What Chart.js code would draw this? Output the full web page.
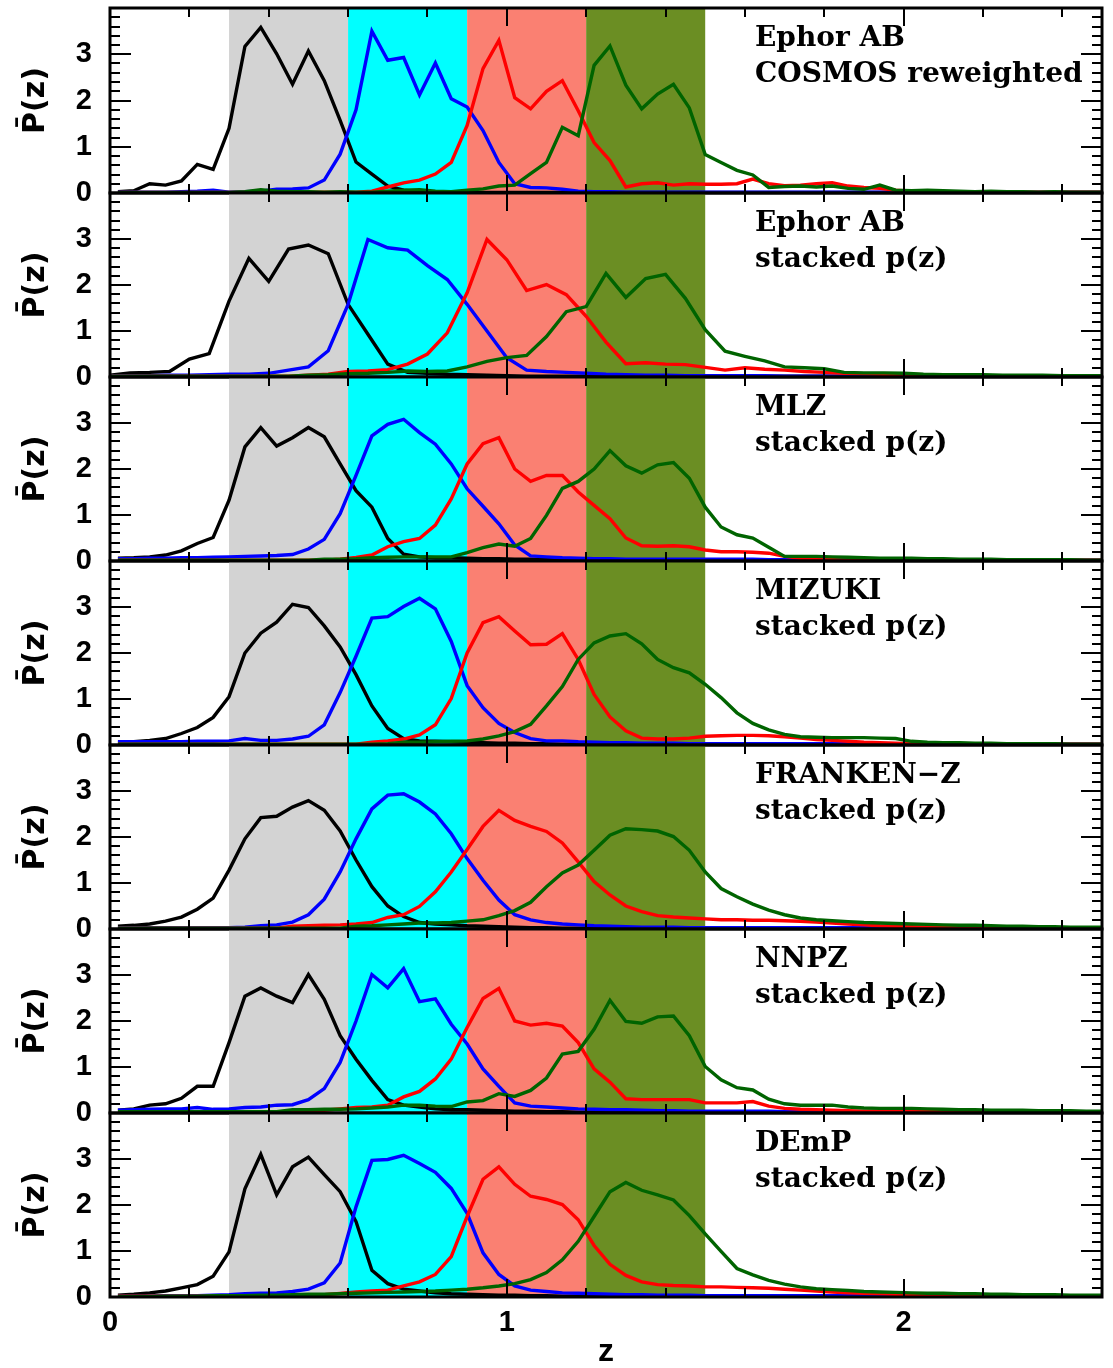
<!DOCTYPE html>
<html>
<head>
<meta charset="utf-8">
<script src="https://cdn.jsdelivr.net/npm/chart.js@4.4.1/dist/chart.umd.min.js"></script>
<style>
  body { margin: 0; background: #fff; }
  #wrap { position: relative; width: 1113px; height: 1368px; overflow: hidden; }
  #wrap canvas { position: absolute; left: 0; }
</style>
</head>
<body>
<div id="wrap"></div>
<script>
// redshift bin centres (dz = 0.04), used by every panel except the stacked Ephor one
const zGrid = [
  0.02, 0.06, 0.10, 0.14, 0.18, 0.22, 0.26, 0.30, 0.34,
  0.38, 0.42, 0.46, 0.50, 0.54, 0.58, 0.62, 0.66, 0.70,
  0.74, 0.78, 0.82, 0.86, 0.90, 0.94, 0.98, 1.02, 1.06,
  1.10, 1.14, 1.18, 1.22, 1.26, 1.30, 1.34, 1.38, 1.42,
  1.46, 1.50, 1.54, 1.58, 1.62, 1.66, 1.70, 1.74, 1.78,
  1.82, 1.86, 1.90, 1.94, 1.98, 2.02, 2.06, 2.10, 2.14,
  2.18, 2.22, 2.26, 2.30, 2.34, 2.38, 2.42, 2.46, 2.50
];
// Ephor AB stacked p(z) comes on a coarser grid (dz = 0.05)
const zGridStacked = [
  0.00, 0.05, 0.10, 0.15, 0.20, 0.25, 0.30, 0.35, 0.40, 0.45, 0.50, 0.55, 0.60, 0.65, 0.70, 0.75, 0.80,
  0.85, 0.90, 0.95, 1.00, 1.05, 1.10, 1.15, 1.20, 1.25, 1.30, 1.35, 1.40, 1.45, 1.50, 1.55, 1.60,
  1.65, 1.70, 1.75, 1.80, 1.85, 1.90, 1.95, 2.00, 2.05, 2.10, 2.15, 2.20, 2.25, 2.30, 2.35, 2.40, 2.45, 2.50
];

// photo-z bins: 0.3-0.6, 0.6-0.9, 0.9-1.2, 1.2-1.5
const binEdges = [0.3, 0.6, 0.9, 1.2, 1.5];

// ---- Ephor AB, COSMOS reweighted
const ephorRwZ03 = [
  0.03, 0.05, 0.20, 0.17, 0.26, 0.62, 0.51, 1.40, 3.17,
  3.58, 3.01, 2.35, 3.07, 2.43, 1.57, 0.67, 0.41, 0.15,
  0.06, 0.03, 0.02, 0.02, 0.01, 0.01, 0.01, 0.01, 0.01,
  0.01, 0.01, 0.01, 0.01, 0.01, 0.01, 0.01, 0.01, 0.01,
  0.01, 0.01, 0.01, 0.01, 0.01, 0.01, 0.01, 0.01, 0.01,
  0.01, 0.01, 0.01, 0.01, 0.01, 0.01, 0.01, 0.01, 0.01,
  0.01, 0.01, 0.01, 0.01, 0.01, 0.01, 0.01, 0.01, 0.01
];
const ephorRwZ06 = [
  0.02, 0.02, 0.02, 0.02, 0.03, 0.04, 0.06, 0.02, 0.03,
  0.04, 0.08, 0.09, 0.11, 0.28, 0.84, 1.80, 3.50, 2.87,
  2.93, 2.12, 2.81, 2.04, 1.86, 1.35, 0.66, 0.20, 0.12,
  0.11, 0.08, 0.04, 0.03, 0.03, 0.02, 0.02, 0.02, 0.02,
  0.02, 0.02, 0.02, 0.02, 0.02, 0.02, 0.02, 0.02, 0.02,
  0.02, 0.02, 0.02, 0.02, 0.02, 0.02, 0.02, 0.02, 0.02,
  0.02, 0.02, 0.02, 0.02, 0.02, 0.02, 0.02, 0.02, 0.02
];
const ephorRwZ09 = [
  0.01, 0.01, 0.01, 0.01, 0.01, 0.01, 0.01, 0.01, 0.02,
  0.02, 0.02, 0.02, 0.02, 0.02, 0.02, 0.02, 0.04, 0.13,
  0.22, 0.28, 0.41, 0.66, 1.46, 2.69, 3.30, 2.06, 1.82,
  2.20, 2.43, 1.78, 1.09, 0.70, 0.13, 0.20, 0.22, 0.17,
  0.20, 0.19, 0.19, 0.20, 0.30, 0.20, 0.16, 0.17, 0.20,
  0.22, 0.15, 0.12, 0.10, 0.06, 0.04, 0.03, 0.02, 0.02,
  0.02, 0.02, 0.02, 0.02, 0.02, 0.02, 0.02, 0.02, 0.02
];
const ephorRwZ12 = [
  0.01, 0.01, 0.01, 0.01, 0.01, 0.01, 0.01, 0.01, 0.03,
  0.07, 0.04, 0.03, 0.03, 0.02, 0.03, 0.02, 0.02, 0.04,
  0.06, 0.07, 0.04, 0.03, 0.06, 0.09, 0.15, 0.17, 0.42,
  0.66, 1.42, 1.24, 2.76, 3.18, 2.33, 1.82, 2.14, 2.35,
  1.84, 0.83, 0.66, 0.49, 0.39, 0.12, 0.14, 0.15, 0.13,
  0.15, 0.10, 0.08, 0.17, 0.06, 0.05, 0.06, 0.05, 0.04,
  0.03, 0.04, 0.03, 0.03, 0.02, 0.03, 0.02, 0.02, 0.02
];

// ---- Ephor AB, stacked p(z)  (zGridStacked)
const ephorZ03 = [
  0.04, 0.09, 0.10, 0.12, 0.39, 0.51, 1.65, 2.58, 2.08, 2.78, 2.87, 2.68, 1.58, 0.93, 0.28, 0.10, 0.08,
  0.06, 0.05, 0.04, 0.03, 0.02, 0.02, 0.02, 0.02, 0.02, 0.02, 0.02, 0.02, 0.02, 0.02, 0.02, 0.02,
  0.02, 0.02, 0.02, 0.02, 0.02, 0.02, 0.02, 0.02, 0.02, 0.02, 0.02, 0.02, 0.02, 0.02, 0.02, 0.02, 0.02, 0.02
];
const ephorZ06 = [
  0.03, 0.03, 0.03, 0.04, 0.04, 0.05, 0.06, 0.06, 0.08, 0.15, 0.22, 0.57, 1.58, 2.99, 2.81, 2.76, 2.42,
  2.12, 1.58, 1.00, 0.42, 0.15, 0.12, 0.10, 0.08, 0.06, 0.05, 0.04, 0.04, 0.03, 0.03, 0.03, 0.03,
  0.03, 0.02, 0.02, 0.02, 0.02, 0.02, 0.02, 0.02, 0.02, 0.02, 0.02, 0.02, 0.02, 0.02, 0.02, 0.02, 0.02, 0.02
];
const ephorZ09 = [
  0.02, 0.02, 0.02, 0.02, 0.02, 0.02, 0.02, 0.02, 0.02, 0.02, 0.04, 0.06, 0.12, 0.13, 0.16, 0.28, 0.50,
  0.96, 1.83, 2.99, 2.55, 1.88, 2.01, 1.79, 1.32, 0.76, 0.29, 0.31, 0.28, 0.27, 0.21, 0.15, 0.20,
  0.17, 0.15, 0.12, 0.10, 0.08, 0.07, 0.06, 0.06, 0.05, 0.04, 0.04, 0.03, 0.03, 0.03, 0.02, 0.02, 0.02, 0.02
];
const ephorZ12 = [
  0.02, 0.02, 0.02, 0.02, 0.02, 0.02, 0.02, 0.02, 0.02, 0.02, 0.04, 0.05, 0.07, 0.08, 0.10, 0.13, 0.12,
  0.13, 0.22, 0.34, 0.42, 0.47, 0.88, 1.42, 1.53, 2.25, 1.73, 2.14, 2.23, 1.71, 1.03, 0.56, 0.45,
  0.35, 0.22, 0.20, 0.18, 0.10, 0.09, 0.09, 0.08, 0.06, 0.05, 0.05, 0.05, 0.04, 0.04, 0.04, 0.03, 0.03, 0.03
];

// ---- MLZ
const mlzZ03 = [
  0.06, 0.07, 0.09, 0.13, 0.22, 0.38, 0.51, 1.32, 2.48,
  2.90, 2.50, 2.68, 2.90, 2.70, 2.11, 1.53, 1.17, 0.49,
  0.15, 0.09, 0.07, 0.07, 0.06, 0.05, 0.05, 0.04, 0.04,
  0.03, 0.03, 0.03, 0.02, 0.02, 0.02, 0.02, 0.02, 0.02,
  0.02, 0.02, 0.02, 0.02, 0.02, 0.02, 0.02, 0.02, 0.02,
  0.02, 0.02, 0.02, 0.02, 0.02, 0.02, 0.02, 0.02, 0.02,
  0.02, 0.02, 0.02, 0.02, 0.02, 0.02, 0.02, 0.02, 0.02
];
const mlzZ06 = [
  0.05, 0.05, 0.06, 0.06, 0.07, 0.07, 0.08, 0.09, 0.10,
  0.11, 0.12, 0.14, 0.26, 0.47, 1.03, 1.86, 2.72, 2.97,
  3.08, 2.79, 2.54, 2.11, 1.57, 1.19, 0.81, 0.35, 0.11,
  0.09, 0.07, 0.06, 0.05, 0.05, 0.04, 0.04, 0.04, 0.04,
  0.04, 0.04, 0.04, 0.04, 0.04, 0.03, 0.03, 0.03, 0.03,
  0.03, 0.03, 0.03, 0.03, 0.03, 0.03, 0.03, 0.03, 0.02,
  0.02, 0.02, 0.02, 0.02, 0.02, 0.02, 0.02, 0.02, 0.02
];
const mlzZ09 = [
  0.02, 0.02, 0.02, 0.02, 0.02, 0.02, 0.02, 0.02, 0.02,
  0.02, 0.02, 0.02, 0.02, 0.02, 0.04, 0.08, 0.13, 0.31,
  0.42, 0.49, 0.78, 1.35, 2.11, 2.55, 2.68, 2.00, 1.73,
  1.86, 1.86, 1.50, 1.21, 0.92, 0.50, 0.33, 0.32, 0.33,
  0.31, 0.24, 0.20, 0.20, 0.19, 0.17, 0.10, 0.06, 0.04,
  0.03, 0.02, 0.02, 0.02, 0.02, 0.02, 0.02, 0.02, 0.02,
  0.02, 0.02, 0.02, 0.02, 0.02, 0.02, 0.02, 0.02, 0.02
];
const mlzZ12 = [
  0.02, 0.02, 0.02, 0.02, 0.02, 0.02, 0.02, 0.02, 0.02,
  0.02, 0.02, 0.02, 0.02, 0.04, 0.04, 0.05, 0.07, 0.08,
  0.09, 0.09, 0.09, 0.09, 0.18, 0.29, 0.37, 0.32, 0.49,
  0.99, 1.58, 1.73, 2.00, 2.40, 2.07, 1.91, 2.09, 2.14,
  1.80, 1.17, 0.74, 0.57, 0.50, 0.30, 0.10, 0.10, 0.10,
  0.09, 0.08, 0.07, 0.06, 0.06, 0.06, 0.05, 0.05, 0.04,
  0.04, 0.04, 0.03, 0.03, 0.03, 0.03, 0.03, 0.02, 0.02
];

// ---- MIZUKI
const mizukiZ03 = [
  0.06, 0.07, 0.10, 0.14, 0.25, 0.38, 0.60, 1.05, 2.00,
  2.43, 2.67, 3.06, 2.99, 2.59, 2.13, 1.53, 0.85, 0.36,
  0.14, 0.09, 0.08, 0.07, 0.06, 0.05, 0.04, 0.04, 0.03,
  0.03, 0.02, 0.02, 0.02, 0.02, 0.02, 0.02, 0.02, 0.02,
  0.02, 0.02, 0.02, 0.02, 0.02, 0.02, 0.02, 0.02, 0.02,
  0.02, 0.02, 0.02, 0.02, 0.02, 0.02, 0.02, 0.02, 0.02,
  0.02, 0.02, 0.02, 0.02, 0.02, 0.02, 0.02, 0.02, 0.02
];
const mizukiZ06 = [
  0.07, 0.07, 0.07, 0.07, 0.07, 0.08, 0.08, 0.09, 0.14,
  0.10, 0.10, 0.13, 0.19, 0.44, 1.14, 1.93, 2.76, 2.79,
  3.01, 3.19, 2.96, 2.25, 1.29, 0.81, 0.47, 0.27, 0.14,
  0.09, 0.09, 0.07, 0.06, 0.05, 0.05, 0.04, 0.04, 0.04,
  0.03, 0.03, 0.03, 0.03, 0.03, 0.03, 0.03, 0.03, 0.03,
  0.03, 0.03, 0.03, 0.03, 0.03, 0.03, 0.02, 0.02, 0.02,
  0.02, 0.02, 0.02, 0.02, 0.02, 0.02, 0.02, 0.02, 0.02
];
const mizukiZ09 = [
  0.02, 0.02, 0.02, 0.02, 0.02, 0.02, 0.02, 0.02, 0.02,
  0.02, 0.02, 0.02, 0.02, 0.02, 0.02, 0.02, 0.06, 0.09,
  0.13, 0.22, 0.44, 1.01, 2.00, 2.66, 2.79, 2.48, 2.18,
  2.19, 2.42, 1.86, 1.10, 0.61, 0.31, 0.15, 0.13, 0.13,
  0.15, 0.19, 0.20, 0.21, 0.21, 0.20, 0.18, 0.15, 0.12,
  0.10, 0.08, 0.06, 0.05, 0.04, 0.03, 0.02, 0.02, 0.02,
  0.02, 0.02, 0.02, 0.02, 0.02, 0.02, 0.02, 0.02, 0.02
];
const mizukiZ12 = [
  0.02, 0.02, 0.02, 0.02, 0.02, 0.02, 0.02, 0.02, 0.02,
  0.02, 0.02, 0.02, 0.02, 0.02, 0.02, 0.02, 0.02, 0.03,
  0.06, 0.06, 0.07, 0.08, 0.09, 0.13, 0.20, 0.29, 0.45,
  0.85, 1.27, 1.86, 2.22, 2.37, 2.42, 2.20, 1.86, 1.68,
  1.57, 1.32, 1.03, 0.70, 0.47, 0.33, 0.23, 0.18, 0.17,
  0.16, 0.16, 0.16, 0.15, 0.14, 0.08, 0.06, 0.05, 0.05,
  0.04, 0.04, 0.03, 0.03, 0.03, 0.03, 0.02, 0.02, 0.02
];

// ---- FRANKEN-Z
const frankenZ03 = [
  0.06, 0.08, 0.11, 0.17, 0.26, 0.43, 0.67, 1.28, 1.96,
  2.42, 2.45, 2.65, 2.79, 2.58, 2.13, 1.50, 0.92, 0.50,
  0.27, 0.14, 0.11, 0.09, 0.07, 0.06, 0.05, 0.04, 0.03,
  0.03, 0.02, 0.02, 0.02, 0.02, 0.02, 0.02, 0.02, 0.02,
  0.02, 0.02, 0.02, 0.02, 0.02, 0.02, 0.02, 0.02, 0.02,
  0.02, 0.02, 0.02, 0.02, 0.02, 0.02, 0.02, 0.02, 0.02,
  0.02, 0.02, 0.02, 0.02, 0.02, 0.02, 0.02, 0.02, 0.02
];
const frankenZ06 = [
  0.03, 0.03, 0.03, 0.03, 0.03, 0.03, 0.03, 0.03, 0.04,
  0.07, 0.09, 0.15, 0.31, 0.65, 1.24, 1.96, 2.61, 2.91,
  2.94, 2.76, 2.50, 2.07, 1.53, 1.06, 0.63, 0.31, 0.20,
  0.14, 0.11, 0.09, 0.07, 0.06, 0.05, 0.04, 0.04, 0.04,
  0.03, 0.03, 0.03, 0.03, 0.03, 0.03, 0.03, 0.03, 0.03,
  0.03, 0.03, 0.03, 0.03, 0.03, 0.03, 0.02, 0.02, 0.02,
  0.02, 0.02, 0.02, 0.02, 0.02, 0.02, 0.02, 0.02, 0.02
];
const frankenZ09 = [
  0.02, 0.02, 0.02, 0.02, 0.02, 0.02, 0.02, 0.02, 0.02,
  0.02, 0.02, 0.06, 0.07, 0.08, 0.09, 0.11, 0.14, 0.25,
  0.31, 0.49, 0.81, 1.24, 1.73, 2.23, 2.58, 2.36, 2.23,
  2.12, 1.87, 1.46, 1.03, 0.74, 0.50, 0.38, 0.29, 0.26,
  0.24, 0.22, 0.20, 0.20, 0.19, 0.19, 0.18, 0.17, 0.15,
  0.13, 0.11, 0.09, 0.07, 0.06, 0.05, 0.04, 0.04, 0.03,
  0.03, 0.03, 0.03, 0.02, 0.02, 0.02, 0.02, 0.02, 0.02
];
const frankenZ12 = [
  0.02, 0.02, 0.02, 0.02, 0.02, 0.02, 0.02, 0.02, 0.02,
  0.02, 0.02, 0.02, 0.02, 0.02, 0.02, 0.06, 0.07, 0.09,
  0.11, 0.13, 0.13, 0.14, 0.17, 0.20, 0.29, 0.40, 0.58,
  0.92, 1.22, 1.39, 1.71, 2.04, 2.18, 2.16, 2.13, 2.01,
  1.71, 1.24, 0.88, 0.70, 0.54, 0.41, 0.31, 0.24, 0.20,
  0.18, 0.16, 0.14, 0.13, 0.12, 0.11, 0.10, 0.09, 0.08,
  0.08, 0.07, 0.06, 0.06, 0.05, 0.05, 0.04, 0.04, 0.04
];

// ---- NNPZ
const nnpzZ03 = [
  0.06, 0.09, 0.17, 0.20, 0.32, 0.58, 0.58, 1.53, 2.54,
  2.72, 2.54, 2.40, 3.01, 2.47, 1.68, 1.17, 0.71, 0.29,
  0.17, 0.13, 0.09, 0.07, 0.07, 0.06, 0.05, 0.04, 0.04,
  0.03, 0.03, 0.02, 0.02, 0.02, 0.02, 0.02, 0.02, 0.02,
  0.02, 0.02, 0.02, 0.02, 0.02, 0.02, 0.02, 0.02, 0.02,
  0.02, 0.02, 0.02, 0.02, 0.02, 0.02, 0.02, 0.02, 0.02,
  0.02, 0.02, 0.02, 0.02, 0.02, 0.02, 0.02, 0.02, 0.02
];
const nnpzZ06 = [
  0.06, 0.07, 0.08, 0.09, 0.09, 0.12, 0.08, 0.09, 0.12,
  0.13, 0.17, 0.18, 0.29, 0.53, 1.10, 2.00, 3.01, 2.72,
  3.14, 2.42, 2.48, 1.93, 1.50, 0.96, 0.58, 0.22, 0.15,
  0.13, 0.11, 0.09, 0.08, 0.07, 0.07, 0.06, 0.05, 0.05,
  0.04, 0.04, 0.04, 0.04, 0.04, 0.04, 0.03, 0.03, 0.03,
  0.03, 0.03, 0.03, 0.03, 0.03, 0.03, 0.03, 0.03, 0.02,
  0.02, 0.02, 0.02, 0.02, 0.02, 0.02, 0.02, 0.02, 0.02
];
const nnpzZ09 = [
  0.03, 0.03, 0.03, 0.03, 0.03, 0.03, 0.03, 0.03, 0.03,
  0.03, 0.03, 0.03, 0.03, 0.06, 0.09, 0.12, 0.13, 0.17,
  0.35, 0.47, 0.74, 1.17, 1.86, 2.49, 2.71, 2.00, 1.91,
  1.95, 1.89, 1.53, 0.96, 0.67, 0.31, 0.29, 0.29, 0.29,
  0.29, 0.22, 0.22, 0.22, 0.25, 0.15, 0.10, 0.08, 0.07,
  0.06, 0.05, 0.04, 0.04, 0.03, 0.03, 0.03, 0.03, 0.03,
  0.03, 0.02, 0.02, 0.02, 0.02, 0.02, 0.02, 0.02, 0.02
];
const nnpzZ12 = [
  0.03, 0.03, 0.03, 0.03, 0.03, 0.03, 0.03, 0.03, 0.03,
  0.03, 0.03, 0.07, 0.07, 0.08, 0.08, 0.09, 0.11, 0.13,
  0.17, 0.17, 0.15, 0.14, 0.24, 0.27, 0.42, 0.36, 0.49,
  0.76, 1.28, 1.34, 1.82, 2.45, 1.99, 1.95, 2.09, 2.11,
  1.68, 1.01, 0.72, 0.55, 0.50, 0.30, 0.20, 0.17, 0.17,
  0.17, 0.13, 0.11, 0.10, 0.10, 0.10, 0.09, 0.08, 0.07,
  0.07, 0.06, 0.06, 0.06, 0.05, 0.05, 0.05, 0.04, 0.04
];

// ---- DEmP
const dempZ03 = [
  0.04, 0.06, 0.09, 0.13, 0.20, 0.27, 0.45, 0.98, 2.35,
  3.10, 2.22, 2.83, 3.04, 2.66, 2.29, 1.64, 0.58, 0.29,
  0.17, 0.13, 0.09, 0.07, 0.06, 0.05, 0.04, 0.04, 0.03,
  0.03, 0.02, 0.02, 0.02, 0.02, 0.02, 0.02, 0.02, 0.02,
  0.02, 0.02, 0.02, 0.02, 0.02, 0.02, 0.02, 0.02, 0.02,
  0.02, 0.02, 0.02, 0.02, 0.02, 0.02, 0.02, 0.02, 0.02,
  0.02, 0.02, 0.02, 0.02, 0.02, 0.02, 0.02, 0.02, 0.02
];
const dempZ06 = [
  0.02, 0.02, 0.02, 0.03, 0.03, 0.03, 0.04, 0.05, 0.07,
  0.08, 0.09, 0.12, 0.17, 0.31, 0.74, 1.96, 2.97, 2.99,
  3.08, 2.90, 2.71, 2.36, 1.82, 0.96, 0.49, 0.24, 0.15,
  0.12, 0.09, 0.08, 0.07, 0.06, 0.05, 0.05, 0.04, 0.04,
  0.04, 0.03, 0.03, 0.03, 0.03, 0.03, 0.03, 0.03, 0.03,
  0.03, 0.03, 0.03, 0.03, 0.03, 0.03, 0.02, 0.02, 0.02,
  0.02, 0.02, 0.02, 0.02, 0.02, 0.02, 0.02, 0.02, 0.02
];
const dempZ09 = [
  0.02, 0.02, 0.02, 0.02, 0.02, 0.02, 0.02, 0.02, 0.02,
  0.02, 0.02, 0.02, 0.02, 0.05, 0.08, 0.11, 0.13, 0.15,
  0.24, 0.33, 0.49, 0.88, 1.75, 2.56, 2.83, 2.45, 2.19,
  2.12, 2.01, 1.68, 1.12, 0.71, 0.47, 0.33, 0.27, 0.25,
  0.24, 0.22, 0.22, 0.21, 0.20, 0.19, 0.17, 0.15, 0.13,
  0.11, 0.09, 0.08, 0.07, 0.06, 0.05, 0.04, 0.04, 0.03,
  0.03, 0.03, 0.03, 0.02, 0.02, 0.02, 0.02, 0.02, 0.02
];
const dempZ12 = [
  0.01, 0.01, 0.01, 0.02, 0.02, 0.02, 0.03, 0.03, 0.03,
  0.04, 0.04, 0.05, 0.06, 0.06, 0.07, 0.08, 0.09, 0.10,
  0.11, 0.12, 0.13, 0.15, 0.17, 0.20, 0.24, 0.29, 0.38,
  0.53, 0.81, 1.21, 1.75, 2.29, 2.49, 2.32, 2.22, 2.11,
  1.77, 1.37, 0.99, 0.62, 0.48, 0.36, 0.28, 0.22, 0.18,
  0.16, 0.14, 0.12, 0.11, 0.10, 0.09, 0.08, 0.08, 0.07,
  0.07, 0.06, 0.06, 0.05, 0.05, 0.05, 0.04, 0.04, 0.04
];

// ---- styling / layout
const binColours = ['#d3d3d3', '#00ffff', '#fa8072', '#6b8e23'];
const lineColours = ['#000000', '#0000ff', '#ff0000', '#006400'];
const panelEdges = [8, 193, 377, 561, 745, 929, 1113, 1297];
const PAD = 20;
const PAGE_H = 1368;
const PLOT_LEFT = 110;
const PLOT_RIGHT = 1102;

const panels = [
  { grid: zGrid, series: [ephorRwZ03, ephorRwZ06, ephorRwZ09, ephorRwZ12], text: ['Ephor AB', 'COSMOS reweighted'] },
  { grid: zGridStacked, series: [ephorZ03, ephorZ06, ephorZ09, ephorZ12], text: ['Ephor AB', 'stacked p(z)'] },
  { grid: zGrid, series: [mlzZ03, mlzZ06, mlzZ09, mlzZ12], text: ['MLZ', 'stacked p(z)'] },
  { grid: zGrid, series: [mizukiZ03, mizukiZ06, mizukiZ09, mizukiZ12], text: ['MIZUKI', 'stacked p(z)'] },
  { grid: zGrid, series: [frankenZ03, frankenZ06, frankenZ09, frankenZ12], text: ['FRANKEN\u2212Z', 'stacked p(z)'] },
  { grid: zGrid, series: [nnpzZ03, nnpzZ06, nnpzZ09, nnpzZ12], text: ['NNPZ', 'stacked p(z)'] },
  { grid: zGrid, series: [dempZ03, dempZ06, dempZ09, dempZ12], text: ['DEmP', 'stacked p(z)'] }
];

// shaded bins behind the curves, in-pointing ticks, frame and panel caption on top
const panelDecor = {
  id: 'panelDecor',
  beforeDatasetsDraw(chart) {
    const { ctx, chartArea: a, scales: { x } } = chart;
    ctx.save();
    for (let b = 0; b < binColours.length; b++) {
      const x0 = x.getPixelForValue(binEdges[b]);
      const x1 = x.getPixelForValue(binEdges[b + 1]);
      ctx.fillStyle = binColours[b];
      ctx.fillRect(x0, a.top, x1 - x0, a.bottom - a.top);
    }
    ctx.restore();
  },
  afterDatasetsDraw(chart, args, opts) {
    const { ctx, chartArea: a, scales: { x, y } } = chart;
    ctx.save();
    ctx.strokeStyle = '#000';
    ctx.lineWidth = 2;
    ctx.beginPath();
    for (let i = 1; i <= 12; i++) {
      const v = i * 0.2;
      const px = Math.round(x.getPixelForValue(v));
      const len = (i % 5 === 0) ? 18 : 9;
      ctx.moveTo(px, a.bottom); ctx.lineTo(px, a.bottom - len);
      ctx.moveTo(px, a.top); ctx.lineTo(px, a.top + len);
    }
    for (let i = 1; i < 20; i++) {
      const v = i * 0.2;
      const py = Math.round(y.getPixelForValue(v));
      const len = (i % 5 === 0) ? 21 : 10;
      ctx.moveTo(a.left, py); ctx.lineTo(a.left + len, py);
      ctx.moveTo(a.right, py); ctx.lineTo(a.right - len, py);
    }
    ctx.stroke();
    ctx.lineWidth = 3;
    ctx.strokeRect(a.left, a.top, a.right - a.left, a.bottom - a.top);

    ctx.fillStyle = '#000';
    ctx.font = 'bold 28px "DejaVu Serif"';
    ctx.textAlign = 'left';
    ctx.textBaseline = 'alphabetic';
    opts.lines.forEach((t, j) => ctx.fillText(t, a.left + 645, a.top + 38 + 36 * j));
    ctx.restore();
  }
};

Chart.defaults.font.family = "'Liberation Sans', sans-serif";
Chart.defaults.color = '#000';

const wrap = document.getElementById('wrap');
const tickFont = { family: "'Liberation Sans', sans-serif", weight: 'bold', size: 29 };
// y labels sit on the frame edges; a tiny line height keeps the layout from reserving room for them
const yTickFont = { family: "'Liberation Sans', sans-serif", weight: 'bold', size: 29, lineHeight: 0.01 };

panels.forEach((p, i) => {
  const last = i === panels.length - 1;
  const top = panelEdges[i] - PAD;
  const plotH = panelEdges[i + 1] - panelEdges[i];
  const h = last ? PAGE_H - top : plotH + 2 * PAD;
  const xAxisH = PAGE_H - panelEdges[7];
  const cv = document.createElement('canvas');
  cv.width = 1113;
  cv.height = h;
  cv.style.top = top + 'px';
  wrap.appendChild(cv);

  const datasets = p.series.map((vals, s) => ({
    data: vals.map((v, k) => ({ x: p.grid[k], y: v })),
    borderColor: lineColours[s],
    borderWidth: 3.4,
    pointRadius: 0,
    tension: 0,
    order: 3 - s
  }));

  const padding = { top: PAD, bottom: last ? 0 : PAD, left: 0, right: 1113 - PLOT_RIGHT };

  const chart = new Chart(cv, {
    type: 'line',
    data: { datasets },
    options: {
      responsive: false,
      animation: false,
      devicePixelRatio: 1,
      layout: { padding },
      plugins: {
        legend: { display: false },
        tooltip: { enabled: false },
        panelDecor: { lines: p.text }
      },
      scales: {
        x: {
          type: 'linear',
          min: 0,
          max: 2.5,
          display: last,
          grid: { display: false, drawTicks: false, tickLength: 0 },
          border: { display: false },
          ticks: {
            stepSize: 1,
            padding: 9,
            font: tickFont,
            maxRotation: 0,
            callback: v => Number.isInteger(v) ? String(v) : ''
          },
          title: {
            display: true,
            text: 'z',
            font: { family: "'Liberation Sans', sans-serif", weight: 'bold', size: 32, lineHeight: 1 },
            padding: { top: 0, bottom: 0 }
          },
          afterFit: s => { if (last) s.height = xAxisH; }
        },
        y: {
          min: 0,
          max: 4,
          grid: { display: false, drawTicks: false, tickLength: 0 },
          border: { display: false },
          ticks: {
            stepSize: 1,
            padding: 18,
            font: yTickFont,
            callback: v => (v === 4 ? '' : String(v))
          },
          title: {
            display: true,
            text: 'P\u0304(z)',
            font: { family: "'DejaVu Sans', sans-serif", weight: 'bold', size: 30, lineHeight: 1 },
            padding: { top: 21, bottom: 0 }
          },
          afterFit: s => { s.width = PLOT_LEFT; }
        }
      }
    },
    plugins: [panelDecor]
  });

  // pull the plot box onto the shared panel grid if the layout still shifted it
  const ca = chart.chartArea;
  const dTop = PAD - ca.top;
  const dBottom = ca.bottom - (PAD + plotH);
  if (Math.abs(dTop) > 0.5 || Math.abs(dBottom) > 0.5) {
    padding.top = Math.max(0, padding.top + dTop);
    padding.bottom = Math.max(0, padding.bottom + dBottom);
    chart.options.layout.padding = { ...padding };
    chart.update();
  }
});
</script>
</body>
</html>
